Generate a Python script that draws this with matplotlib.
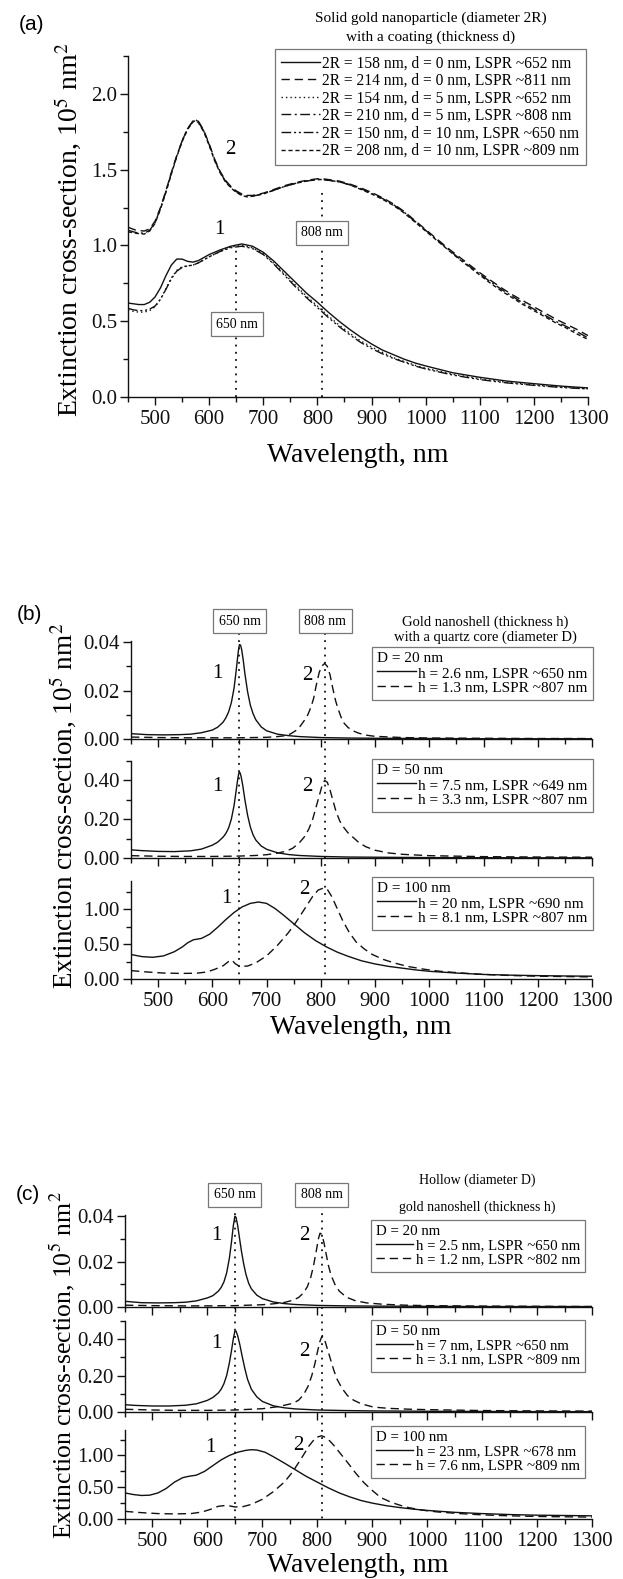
import matplotlib
matplotlib.use("Agg")
import matplotlib.pyplot as plt
from matplotlib.ticker import MultipleLocator, FormatStrFormatter
from matplotlib.transforms import blended_transform_factory
from matplotlib.lines import Line2D

plt.rcParams['font.family'] = ['Liberation Serif', 'DejaVu Serif']
plt.rcParams['mathtext.fontset'] = 'stix'
plt.rcParams['axes.linewidth'] = 1.0

# ---------------- data ----------------
laser_lines = [650, 808]

# (a) solid gold particle, group 1 (LSPR ~650 nm)
wl_a1 = [450, 460, 470, 480, 490, 500, 510, 520, 530, 540, 550, 560, 570, 580, 590, 600, 620, 640, 660, 680,
         700, 720, 740, 760, 780, 800, 820, 840, 860, 880, 900, 920, 940, 960, 980, 1000, 1050, 1100, 1150, 1200,
         1250, 1300]
a_158_d0 = [0.62, 0.615, 0.61, 0.61, 0.625, 0.66, 0.72, 0.80, 0.87, 0.91, 0.91, 0.895, 0.89, 0.90, 0.92, 0.94, 0.97,
            0.995, 1.01, 0.995, 0.955, 0.895, 0.825, 0.755, 0.685, 0.625, 0.56, 0.50, 0.445, 0.395, 0.35, 0.31, 0.28,
            0.25, 0.225, 0.205, 0.16, 0.13, 0.105, 0.088, 0.072, 0.06]
a_154_d5 = [0.575, 0.565, 0.56, 0.56, 0.57, 0.595, 0.645, 0.715, 0.785, 0.835, 0.86, 0.865, 0.87, 0.885, 0.905, 0.925,
            0.96, 0.99, 1.0, 0.985, 0.945, 0.88, 0.81, 0.735, 0.665, 0.60, 0.535, 0.475, 0.42, 0.37, 0.33, 0.295,
            0.26, 0.235, 0.21, 0.19, 0.15, 0.12, 0.097, 0.08, 0.066, 0.055]
a_150_d10 = [0.585, 0.575, 0.57, 0.57, 0.58, 0.60, 0.645, 0.71, 0.78, 0.83, 0.855, 0.865, 0.87, 0.885, 0.905, 0.925,
             0.96, 0.985, 0.995, 0.98, 0.94, 0.875, 0.80, 0.725, 0.655, 0.59, 0.525, 0.465, 0.41, 0.36, 0.32, 0.285,
             0.255, 0.23, 0.205, 0.185, 0.145, 0.115, 0.093, 0.077, 0.063, 0.053]

# (a) group 2 (LSPR ~808 nm)
wl_a2 = [450, 465, 480, 490, 500, 510, 520, 530, 540, 550, 560, 570, 575, 580, 590, 600, 610, 620, 630, 640,
         650, 660, 670, 680, 700, 720, 740, 760, 780, 800, 810, 820, 840, 860, 880, 900, 920, 940, 960, 980,
         1000, 1020, 1040, 1060, 1080, 1100, 1120, 1140, 1160, 1180, 1200, 1220, 1240, 1260, 1280, 1300]
a_214_d0 = [1.12, 1.10, 1.095, 1.11, 1.16, 1.25, 1.36, 1.48, 1.59, 1.69, 1.77, 1.82, 1.83, 1.82, 1.76, 1.67, 1.57,
            1.49, 1.43, 1.39, 1.36, 1.34, 1.33, 1.33, 1.345, 1.37, 1.395, 1.415, 1.43, 1.44, 1.44, 1.435, 1.425,
            1.405, 1.38, 1.35, 1.315, 1.275, 1.225, 1.165, 1.105, 1.045, 0.985, 0.93, 0.875, 0.82, 0.77, 0.72,
            0.675, 0.635, 0.595, 0.555, 0.515, 0.48, 0.445, 0.405]
a_210_d5 = [1.10, 1.085, 1.08, 1.10, 1.15, 1.245, 1.355, 1.475, 1.59, 1.69, 1.77, 1.82, 1.83, 1.815, 1.755, 1.665,
            1.565, 1.485, 1.425, 1.385, 1.355, 1.335, 1.325, 1.325, 1.34, 1.365, 1.39, 1.41, 1.425, 1.435, 1.435,
            1.43, 1.42, 1.40, 1.375, 1.345, 1.31, 1.27, 1.22, 1.16, 1.10, 1.04, 0.98, 0.92, 0.865, 0.81, 0.76,
            0.71, 0.665, 0.62, 0.58, 0.54, 0.50, 0.465, 0.43, 0.39]
a_208_d10 = [1.09, 1.08, 1.075, 1.095, 1.145, 1.24, 1.35, 1.47, 1.585, 1.685, 1.765, 1.815, 1.825, 1.81, 1.75, 1.66,
             1.56, 1.48, 1.42, 1.38, 1.35, 1.33, 1.32, 1.325, 1.34, 1.365, 1.39, 1.41, 1.425, 1.435, 1.435, 1.43,
             1.42, 1.40, 1.37, 1.34, 1.305, 1.265, 1.215, 1.155, 1.095, 1.035, 0.975, 0.915, 0.86, 0.805, 0.75,
             0.70, 0.655, 0.61, 0.57, 0.53, 0.49, 0.455, 0.415, 0.38]

a_labels = ["2R = 158 nm, d = 0 nm, LSPR ~652 nm", "2R = 214 nm, d = 0 nm, LSPR ~811 nm",
            "2R = 154 nm, d = 5 nm, LSPR ~652 nm", "2R = 210 nm, d = 5 nm, LSPR ~808 nm",
            "2R = 150 nm, d = 10 nm, LSPR ~650 nm", "2R = 208 nm, d = 10 nm, LSPR ~809 nm"]

# (b) gold nanoshell on quartz core
b20_wl_1 = [450, 480, 510, 540, 560, 580, 600, 610, 620, 625, 630, 635, 640, 643, 646, 648, 650, 652, 654, 657,
            660, 665, 670, 675, 680, 690, 700, 720, 740, 760, 800, 850, 900, 1000, 1100, 1200, 1300]
b20_h26 = [0.0022, 0.0018, 0.0017, 0.0018, 0.0020, 0.0026, 0.0037, 0.0049, 0.0070, 0.0088, 0.0112, 0.0150, 0.0210,
           0.0265, 0.0325, 0.0365, 0.0390, 0.0388, 0.0370, 0.0325, 0.0270, 0.0195, 0.0140, 0.0105, 0.0080, 0.0050,
           0.0034, 0.0020, 0.0014, 0.0010, 0.0006, 0.0004, 0.0003, 0.0002, 0.0001, 0.0001, 0.0001]
b20_wl_2 = [450, 500, 550, 600, 650, 700, 720, 736, 745, 754, 762, 770, 776, 782, 787, 791, 797, 802, 807, 812,
            817, 822, 827, 831, 837, 843, 850, 858, 870, 883, 900, 950, 1000, 1100, 1200, 1300]
b20_h13 = [0.0008, 0.0006, 0.0005, 0.0005, 0.0005, 0.0007, 0.0010, 0.0014, 0.0022, 0.0035, 0.0053, 0.0078, 0.0100,
           0.0133, 0.0170, 0.0216, 0.0275, 0.0302, 0.0312, 0.0300, 0.0265, 0.0210, 0.0160, 0.0130, 0.0092, 0.0065,
           0.0048, 0.0035, 0.0024, 0.0016, 0.0011, 0.0006, 0.0004, 0.0003, 0.0002, 0.0002]

b50_wl_1 = [450, 470, 500, 530, 560, 580, 600, 610, 620, 625, 630, 635, 640, 644, 647, 649, 651, 653, 656, 660,
            665, 670, 675, 680, 690, 700, 720, 740, 760, 800, 850, 900, 1000, 1100, 1200, 1300]
b50_h75 = [0.042, 0.038, 0.034, 0.033, 0.037, 0.046, 0.066, 0.082, 0.108, 0.127, 0.155, 0.20, 0.27, 0.35, 0.41,
           0.44, 0.44, 0.42, 0.375, 0.30, 0.22, 0.16, 0.12, 0.093, 0.062, 0.045, 0.027, 0.018, 0.013, 0.008, 0.005,
           0.004, 0.002, 0.0015, 0.001, 0.001]
b50_wl_2 = [450, 500, 550, 600, 650, 680, 700, 720, 736, 748, 760, 770, 778, 785, 791, 797, 802, 807, 812, 817,
            822, 828, 835, 843, 850, 858, 870, 883, 900, 925, 950, 1000, 1100, 1200, 1300]
b50_h33 = [0.012, 0.009, 0.008, 0.008, 0.010, 0.013, 0.017, 0.025, 0.035, 0.050, 0.077, 0.11, 0.15, 0.20, 0.26,
           0.32, 0.37, 0.40, 0.39, 0.35, 0.30, 0.24, 0.19, 0.155, 0.13, 0.11, 0.08, 0.058, 0.04, 0.026, 0.019,
           0.012, 0.007, 0.005, 0.004]

b100_wl_1 = [450, 470, 490, 510, 530, 545, 555, 565, 580, 595, 610, 625, 640, 655, 670, 685, 700, 715, 730, 750,
             770, 790, 810, 830, 850, 875, 900, 925, 950, 975, 1000, 1050, 1100, 1150, 1200, 1250, 1300]
b100_h20 = [0.35, 0.32, 0.31, 0.33, 0.39, 0.46, 0.52, 0.56, 0.58, 0.64, 0.74, 0.85, 0.95, 1.03, 1.08, 1.10, 1.08,
            1.01, 0.92, 0.79, 0.66, 0.55, 0.46, 0.385, 0.325, 0.26, 0.215, 0.18, 0.155, 0.13, 0.11, 0.085, 0.065,
            0.055, 0.048, 0.043, 0.04]
b100_wl_2 = [450, 480, 510, 540, 570, 590, 605, 620, 630, 636, 642, 650, 665, 680, 700, 720, 740, 755, 770, 785,
             795, 805, 812, 820, 830, 840, 852, 865, 880, 895, 915, 935, 960, 990, 1020, 1060, 1100, 1150, 1200,
             1250, 1300]
b100_h81 = [0.12, 0.10, 0.085, 0.08, 0.082, 0.10, 0.14, 0.19, 0.25, 0.27, 0.22, 0.18, 0.185, 0.23, 0.33, 0.48, 0.66,
            0.82, 1.00, 1.18, 1.27, 1.30, 1.28, 1.18, 1.01, 0.84, 0.67, 0.53, 0.43, 0.35, 0.28, 0.23, 0.18, 0.14,
            0.11, 0.085, 0.065, 0.05, 0.04, 0.035, 0.03]

b_titles = ["D = 20 nm", "D = 50 nm", "D = 100 nm"]
b_labels = [["h = 2.6 nm, LSPR ~650 nm", "h = 1.3 nm, LSPR ~807 nm"],
            ["h = 7.5 nm, LSPR ~649 nm", "h = 3.3 nm, LSPR ~807 nm"],
            ["h = 20 nm, LSPR ~690 nm", "h = 8.1 nm, LSPR ~807 nm"]]

# (c) hollow gold nanoshell
c20_wl_1 = [450, 480, 510, 540, 560, 580, 600, 610, 620, 625, 630, 635, 640, 644, 647, 650, 652, 655, 658, 662,
            666, 670, 675, 680, 690, 700, 720, 740, 760, 800, 850, 900, 1000, 1100, 1200, 1300]
c20_h25 = [0.0025, 0.0019, 0.0018, 0.0019, 0.0021, 0.0027, 0.0040, 0.0050, 0.0070, 0.0086, 0.0110, 0.0150, 0.0215,
           0.0290, 0.0355, 0.0400, 0.0395, 0.0360, 0.0310, 0.0245, 0.0190, 0.0145, 0.0105, 0.0080, 0.0052, 0.0037,
           0.0022, 0.0015, 0.0011, 0.0007, 0.0005, 0.0004, 0.0003, 0.0002, 0.0002, 0.0002]
c20_wl_2 = [450, 500, 550, 600, 650, 700, 720, 740, 756, 766, 775, 782, 788, 793, 798, 802, 805, 808, 812, 816,
            820, 825, 832, 840, 853, 870, 890, 920, 960, 1000, 1100, 1200, 1300]
c20_h12 = [0.0008, 0.0006, 0.0005, 0.0005, 0.0006, 0.0010, 0.0014, 0.0020, 0.0030, 0.0042, 0.0062, 0.0090, 0.0130,
           0.0180, 0.0245, 0.0300, 0.0325, 0.0320, 0.0285, 0.0235, 0.0185, 0.0140, 0.0100, 0.0070, 0.0043, 0.0027,
           0.0018, 0.0012, 0.0008, 0.0006, 0.0004, 0.0003, 0.0002]

c50_wl_1 = [450, 470, 500, 530, 560, 580, 600, 610, 620, 625, 630, 635, 640, 644, 647, 650, 652, 655, 659, 663,
            668, 673, 680, 690, 700, 720, 740, 760, 800, 850, 900, 1000, 1100, 1200, 1300]
c50_h7 = [0.040, 0.036, 0.033, 0.033, 0.037, 0.045, 0.064, 0.080, 0.105, 0.125, 0.155, 0.20, 0.27, 0.34, 0.40,
          0.445, 0.445, 0.42, 0.37, 0.31, 0.24, 0.18, 0.125, 0.083, 0.058, 0.034, 0.023, 0.017, 0.011, 0.008,
          0.006, 0.004, 0.003, 0.002, 0.002]
c50_wl_2 = [450, 500, 550, 600, 650, 700, 730, 756, 766, 775, 783, 790, 796, 801, 805, 809, 813, 818, 824, 830,
            836, 845, 855, 866, 880, 902, 930, 970, 1000, 1100, 1200, 1300]
c50_h31 = [0.015, 0.011, 0.009, 0.009, 0.011, 0.018, 0.030, 0.048, 0.065, 0.095, 0.14, 0.20, 0.27, 0.34, 0.39,
           0.42, 0.40, 0.35, 0.29, 0.23, 0.18, 0.13, 0.09, 0.065, 0.045, 0.027, 0.02, 0.015, 0.013, 0.008, 0.006,
           0.005]

c100_wl_1 = [450, 465, 480, 495, 510, 525, 540, 555, 565, 580, 595, 610, 625, 640, 655, 670, 680, 690, 705, 720,
             740, 760, 780, 800, 820, 840, 860, 880, 900, 925, 950, 975, 1000, 1050, 1100, 1150, 1200, 1250, 1300]
c100_h23 = [0.41, 0.385, 0.37, 0.375, 0.41, 0.48, 0.58, 0.65, 0.67, 0.69, 0.75, 0.84, 0.93, 1.00, 1.05, 1.08, 1.09,
            1.085, 1.05, 0.98, 0.88, 0.775, 0.67, 0.58, 0.49, 0.41, 0.345, 0.29, 0.25, 0.21, 0.18, 0.155, 0.135,
            0.105, 0.085, 0.07, 0.06, 0.055, 0.05]
c100_wl_2 = [450, 480, 510, 540, 570, 590, 605, 620, 635, 650, 665, 680, 700, 720, 740, 755, 770, 785, 797, 808,
             818, 830, 842, 855, 870, 885, 900, 915, 935, 960, 990, 1020, 1060, 1100, 1150, 1200, 1250, 1300]
c100_h76 = [0.12, 0.10, 0.085, 0.08, 0.085, 0.11, 0.15, 0.20, 0.215, 0.19, 0.195, 0.23, 0.31, 0.43, 0.58, 0.74,
            0.94, 1.15, 1.28, 1.31, 1.27, 1.16, 1.03, 0.89, 0.72, 0.57, 0.45, 0.34, 0.26, 0.19, 0.14, 0.11, 0.085,
            0.065, 0.05, 0.04, 0.035, 0.03]

c_titles = ["D = 20 nm", "D = 50 nm", "D = 100 nm"]
c_labels = [["h = 2.5 nm, LSPR ~650 nm", "h = 1.2 nm, LSPR ~802 nm"],
            ["h = 7 nm, LSPR ~650 nm", "h = 3.1 nm, LSPR ~809 nm"],
            ["h = 23 nm, LSPR ~678 nm", "h = 7.6 nm, LSPR ~809 nm"]]

# ---------------- layout helpers (pixel coords of the 623x1579 image) ----------------
W, H = 623, 1579
fig = plt.figure(figsize=(W / 100, H / 100), dpi=100)


def fx(px):
    return px / W


def fy(py):
    return 1 - py / H


def rect(left, top, right, bottom):
    return [fx(left), fy(bottom), (right - left) / W, (bottom - top) / H]


LS = {'solid': '-', 'dash': (0, (6, 3.5)), 'dot': (0, (1, 2.2)),
      'dashdot': (0, (7, 2.5, 1.5, 2.5)), 'dashdotdot': (0, (7, 2, 1.5, 2, 1.5, 2)),
      'short': (0, (3, 2))}
DOTTED = (0, (1, 3))
INK = '#111111'


def style_axes(ax, ymax, ymaj, ymin, fmt, xlabels=True):
    ax.set_xlim(450, 1300)
    ax.set_ylim(0, ymax)
    ax.spines['top'].set_visible(False)
    ax.spines['right'].set_visible(False)
    for s in ('left', 'bottom'):
        ax.spines[s].set_color(INK)
    ax.xaxis.set_major_locator(MultipleLocator(100))
    ax.xaxis.set_minor_locator(MultipleLocator(50))
    ax.yaxis.set_major_locator(MultipleLocator(ymaj))
    ax.yaxis.set_minor_locator(MultipleLocator(ymin))
    ax.yaxis.set_major_formatter(FormatStrFormatter(fmt))
    ax.tick_params(which='both', direction='out', colors=INK, width=1.0, labelsize=15)
    ax.tick_params(which='major', length=6)
    ax.tick_params(which='minor', length=3.5)
    ax.tick_params(axis='x', pad=3)
    ax.tick_params(axis='y', pad=2)
    if not xlabels:
        ax.tick_params(axis='x', labelbottom=False)
    ax.patch.set_alpha(0)


def add_legend(ax, left, top, fontsize, title=None, handlelength=2.5, spacing=0.1, pad=0.4):
    leg = ax.legend(loc='upper left', bbox_to_anchor=(fx(left), fy(top)), bbox_transform=fig.transFigure,
                    fontsize=fontsize, title=title, title_fontsize=fontsize, alignment='left',
                    frameon=True, fancybox=False, framealpha=1, edgecolor='#777777', borderpad=pad,
                    labelspacing=spacing, handlelength=handlelength, handletextpad=0.15, borderaxespad=0)
    leg.get_frame().set_linewidth(0.9)
    return leg


def ftext(x, y, s, **kw):
    fig.text(fx(x), fy(y), s, ha='center', va='center', **kw)


def nm_box(x, y, s):
    ftext(x, y, s, fontsize=10, zorder=6,
          bbox=dict(boxstyle='square,pad=0.4', facecolor='white', edgecolor='#777777', linewidth=0.9))


ylab = 'Extinction cross-section, 10$^5$ nm$^2$'

# ---------------- panel (a) ----------------
ax = fig.add_axes(rect(128, 56, 588, 397))
a_series = [(wl_a1, a_158_d0, 'solid'), (wl_a2, a_214_d0, 'dash'), (wl_a1, a_154_d5, 'dot'),
            (wl_a2, a_210_d5, 'dashdot'), (wl_a1, a_150_d10, 'dashdotdot'), (wl_a2, a_208_d10, 'short')]
for (wl, ys, ls), lab in zip(a_series, a_labels):
    ax.plot(wl, ys, color=INK, lw=1.0, ls=LS[ls], label=lab)
style_axes(ax, 2.25, 0.5, 0.25, '%.1f')
ax.plot([laser_lines[0]] * 2, [0, 0.98], color=INK, lw=1.3, ls=DOTTED, zorder=1)
ax.plot([laser_lines[1]] * 2, [0, 1.38], color=INK, lw=1.3, ls=DOTTED, zorder=1)
add_legend(ax, 275, 49, 11.2, handlelength=2.5)
nm_box(237, 324, '650 nm')
nm_box(322, 233, '808 nm')
ftext(219, 230, '1', fontsize=15)
ftext(230, 150, '2', fontsize=15)
ftext(431, 18, 'Solid gold nanoparticle (diameter 2R)', fontsize=11)
ftext(431, 37, 'with a coating (thickness d)', fontsize=11)
ftext(31, 24, '(a)', fontsize=15, family=['Liberation Sans', 'DejaVu Sans'])
ftext(68, 230, ylab, fontsize=20, rotation=90)
ftext(358, 455, 'Wavelength, nm', fontsize=20)


# ---------------- stacked panels (b) and (c) ----------------
def stack_panel(rows, left, right, data, titles, labels, leg_tops, leg_left, box_y, line_top,
                nums, leg_size):
    ymaxs = [0.0405, 0.5, 1.4]
    ymajs = [0.02, 0.2, 0.5]
    ymins = [0.01, 0.1, 0.25]
    axes = []
    for i, (top, bottom) in enumerate(rows):
        ax = fig.add_axes(rect(left, top, right, bottom))
        (wl1, y1), (wl2, y2) = data[i]
        ax.plot(wl1, y1, color=INK, lw=1.0, ls='-', label=labels[i][0])
        ax.plot(wl2, y2, color=INK, lw=1.0, ls=LS['dash'], label=labels[i][1])
        style_axes(ax, ymaxs[i], ymajs[i], ymins[i], '%.2f', xlabels=(i == 2))
        add_legend(ax, leg_left, leg_tops[i], leg_size, title=titles[i], handlelength=2.5,
                   spacing=0.05, pad=0.35)
        axes.append(ax)
    trans = blended_transform_factory(axes[0].transData, fig.transFigure)
    for lam in laser_lines:
        fig.add_artist(Line2D([lam, lam], [fy(line_top), fy(rows[2][1])], transform=trans,
                              color=INK, lw=1.3, ls=DOTTED))
    for lam, s in zip(laser_lines, ['650 nm', '808 nm']):
        x_px = left + (lam - 450) / 850 * (right - left)
        nm_box(x_px, box_y, s)
    for (x, y, s) in nums:
        ftext(x, y, s, fontsize=15)
    return axes


stack_panel([(641, 739), (761, 858), (881, 979)], 131, 592,
            [((b20_wl_1, b20_h26), (b20_wl_2, b20_h13)),
             ((b50_wl_1, b50_h75), (b50_wl_2, b50_h33)),
             ((b100_wl_1, b100_h20), (b100_wl_2, b100_h81))],
            b_titles, b_labels, [647, 759, 877], 372, 621, 633,
            [(217, 673, '1'), (307, 675, '2'), (217, 787, '1'), (307, 787, '2'),
             (226, 898, '1'), (304, 890, '2')], 11)
ftext(485, 622, 'Gold nanoshell (thickness h)', fontsize=10.5)
ftext(485, 637, 'with a quartz core (diameter D)', fontsize=10.5)
ftext(29, 614, '(b)', fontsize=15, family=['Liberation Sans', 'DejaVu Sans'])
ftext(63, 806, ylab, fontsize=19.5, rotation=90)
ftext(361, 1028, 'Wavelength, nm', fontsize=20)

stack_panel([(1215, 1307), (1321, 1412), (1430, 1519)], 125, 592,
            [((c20_wl_1, c20_h25), (c20_wl_2, c20_h12)),
             ((c50_wl_1, c50_h7), (c50_wl_2, c50_h31)),
             ((c100_wl_1, c100_h23), (c100_wl_2, c100_h76))],
            c_titles, c_labels, [1220, 1320, 1426], 371, 1195, 1206,
            [(216, 1235, '1'), (304, 1235, '2'), (216, 1343, '1'), (304, 1352, '2'),
             (210, 1447, '1'), (298, 1446, '2')], 10.7)
ftext(477, 1180, 'Hollow (diameter D)', fontsize=10)
ftext(477, 1207, 'gold nanoshell (thickness h)', fontsize=10)
ftext(28, 1194, '(c)', fontsize=15, family=['Liberation Sans', 'DejaVu Sans'])
ftext(62, 1365, ylab, fontsize=18.5, rotation=90)
ftext(358, 1566, 'Wavelength, nm', fontsize=20)

fig.savefig('out.png', dpi=100)
